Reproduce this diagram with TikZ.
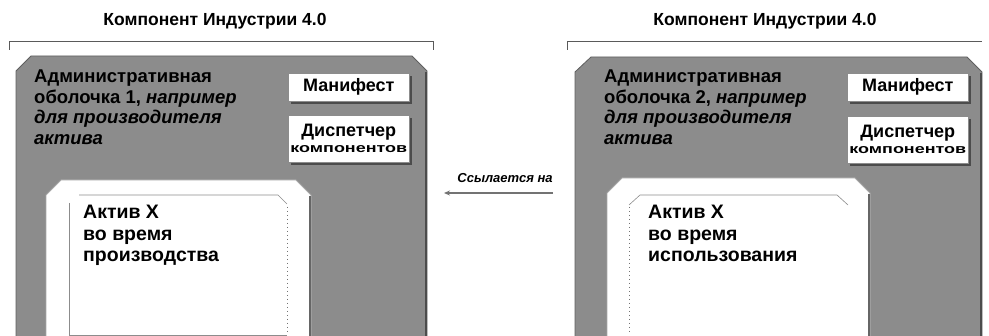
\documentclass[tikz,border=0pt]{standalone}
\usepackage{fontspec}
\setmainfont{Liberation Sans}
\usetikzlibrary{arrows.meta,shadows}
\definecolor{shellgray}{RGB}{140,140,140}
\definecolor{shelledge}{RGB}{95,95,95}
\definecolor{bracketgray}{RGB}{90,90,90}
\begin{document}
\begin{tikzpicture}[x=1pt,y=-1pt,
  bracketline/.style={draw=bracketgray, line width=0.8pt},
  titletext/.style={inner sep=0pt, font=\fontsize{17.5}{20}\selectfont\bfseries},
  shellbody/.style={fill=shellgray, draw=shelledge, line width=0.8pt},
  shellshade/.style={draw=black!70, line width=2pt},
  shelltext/.style={anchor=north west, inner sep=0pt, align=left,
    font=\fontsize{18.5}{20.5}\selectfont\bfseries},
  tagbox/.style={anchor=north west, fill=white, draw=black!45, line width=0.6pt,
    inner sep=0pt, align=center, minimum width=121pt,
    drop shadow={shadow xshift=3pt, shadow yshift=-3pt, fill=black!70, opacity=1},
    font=\fontsize{18}{19}\selectfont\bfseries},
  assetbody/.style={fill=white, draw=black!35, line width=0.8pt},
  assetshade/.style={draw=black!60, line width=1.4pt},
  innerframe/.style={draw=black!45, line width=0.6pt},
  innerdots/.style={draw=black!55, line width=0.8pt, dash pattern=on 1pt off 3pt},
  assettext/.style={anchor=north west, inner sep=0pt, align=left,
    font=\fontsize{19.5}{21.5}\selectfont\bfseries},
  refarrow/.style={draw=black!55, line width=1.6pt, -{Stealth[length=6pt,width=5pt]}},
  reftext/.style={inner sep=0pt, font=\fontsize{13}{15}\selectfont\bfseries\itshape}]
\useasboundingbox (0,0) rectangle (989,336);
\clip (0,0) rectangle (989,336);

% ---------- first component ----------
\draw[bracketline] (9,50) -- (9,41) -- (433,41) -- (433,50);
\node[titletext] (titleA) at (215,21) {Компонент Индустрии 4.0};

\path[shellbody] (16,345) -- (16,71) -- (31,56) -- (412,56) -- (427,71) -- (427,345) -- cycle;
\draw[shellshade] (426,72) -- (426,345);

\node[shelltext] (shellA) at (34,70)
  {Административная\\оболочка 1, \textit{например}\\\textit{для производителя}\\\textit{актива}};

\node[tagbox, minimum height=28pt] (manA) at (288,73) {Манифест};
\node[tagbox, minimum height=47pt] (dispA) at (288,115)
  {Диспетчер\\[-3pt]{\fontsize{13}{15}\selectfont\scalebox{1.38}[1]{компонентов}}};

\path[assetbody] (46,345) -- (46,195) -- (61,180) -- (296,180) -- (311,195) -- (311,345) -- cycle;
\draw[assetshade] (310,196) -- (310,345);
\draw[innerframe] (79,195) -- (278,195) -- (287,204);
\draw[innerframe] (69,203) -- (69,335) -- (287,335);
\draw[innerdots] (287,207) -- (287,333);

\node[assettext] (assetA) at (83,205) {Актив X\\во время\\производства};

% ---------- reference between the two shells ----------
\coordinate (refFrom) at (553,193);
\coordinate (refTo) at (444,193);
\draw[refarrow] (refFrom) -- (refTo);
\node[reftext] (refLabel) at (505,178) {Ссылается на};

% ---------- second component ----------
\draw[bracketline] (567,50) -- (567,41) -- (982,41);
\node[titletext] (titleB) at (765,21) {Компонент Индустрии 4.0};

\path[shellbody] (575,345) -- (575,72) -- (591,57) -- (967,57) -- (982,72) -- (982,345) -- cycle;
\draw[shellshade] (981,73) -- (981,345);

\node[shelltext] (shellB) at (604,70)
  {Административная\\оболочка 2, \textit{например}\\\textit{для производителя}\\\textit{актива}};

\node[tagbox, minimum height=28pt] (manB) at (847,73) {Манифест};
\node[tagbox, minimum height=47pt] (dispB) at (847,116)
  {Диспетчер\\[-3pt]{\fontsize{13}{15}\selectfont\scalebox{1.38}[1]{компонентов}}};

\path[assetbody] (607,345) -- (607,193) -- (622,178) -- (855,178) -- (870,193) -- (870,345) -- cycle;
\draw[assetshade] (869,194) -- (869,345);
\draw[innerframe] (629,205) -- (640,195) -- (837,195) -- (848,205);
\draw[innerdots] (629,207) -- (629,335);

\node[assettext] (assetB) at (648,205) {Актив X\\во время\\использования};
\end{tikzpicture}
\end{document}
